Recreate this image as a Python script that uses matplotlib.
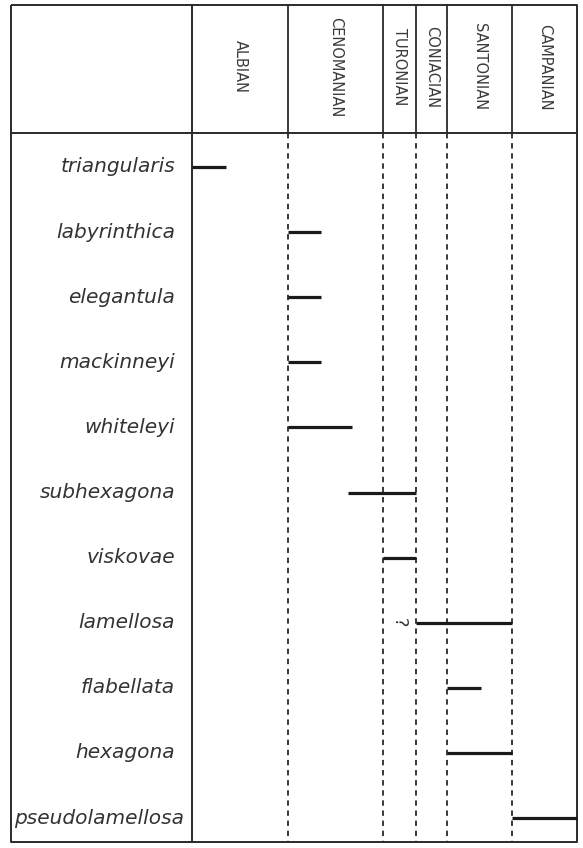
import matplotlib
matplotlib.use("Agg")
import matplotlib.pyplot as plt

# ---- data ----
stages = ["ALBIAN", "CENOMANIAN", "TURONIAN", "CONIACIAN", "SANTONIAN", "CAMPANIAN"]
stage_bounds = [0, 96, 191, 224, 255, 320, 385]   # chart units along the time axis
taxa = ["triangularis", "labyrinthica", "elegantula", "mackinneyi", "whiteleyi",
        "subhexagona", "viskovae", "lamellosa", "flabellata", "hexagona",
        "pseudolamellosa"]
range_start = [0, 96, 96, 96, 96, 156, 191, 224, 255, 255, 320]
range_end = [34, 129, 129, 129, 160, 224, 224, 320, 289, 320, 385]
uncertain_taxon = "lamellosa"
uncertain_x = 207

# ---- layout ----
W, H = 583, 848
fig = plt.figure(figsize=(W / 100, H / 100), dpi=100)
ax = fig.add_axes([0, 0, 1, 1])
ax.set_xlim(-192, 391)
row_px0, row_step = 167, 65.1
ax.set_ylim((H - row_px0) / row_step, -row_px0 / row_step)
ax.axis("off")

def py(p):  # pixel row -> data y
    return (p - row_px0) / row_step

col = "#2a2a2a"
left, right = -181, stage_bounds[-1]
top, hdr, bottom = py(5), py(133), py(842)

# outer frame and header line
ax.plot([left, right, right, left, left], [top, top, bottom, bottom, top],
        color=col, lw=1.4, solid_capstyle="butt")
ax.plot([left, right], [hdr, hdr], color=col, lw=1.4)
# name column separator
ax.plot([0, 0], [top, bottom], color=col, lw=1.4)
# stage boundaries: solid in header, dashed in body
for b in stage_bounds[1:-1]:
    ax.plot([b, b], [top, hdr], color=col, lw=1.3)
    ax.plot([b, b], [hdr, bottom], color=col, lw=1.3, linestyle=(0, (3, 2.6)))

# stage labels
for i, s in enumerate(stages):
    xc = (stage_bounds[i] + stage_bounds[i + 1]) / 2
    ax.text(xc, py(67), s, rotation=-90, ha="center", va="center",
            fontsize=10.5, color="#3a3a3a", family="DejaVu Sans")

# taxa labels and ranges
for i, (t, s, e) in enumerate(zip(taxa, range_start, range_end)):
    lx = -8 if i == len(taxa) - 1 else -17
    ax.text(lx, i, t, ha="right", va="center", fontsize=14.5,
            style="italic", color="#333333", family="DejaVu Sans")
    ax.plot([s, e], [i, i], color="#1a1a1a", lw=2.3, solid_capstyle="butt")
    if t == uncertain_taxon:
        ax.text(uncertain_x, i, "?", rotation=-90, ha="center", va="center",
                fontsize=13, color="#333333")

fig.savefig("out.png", dpi=100)
